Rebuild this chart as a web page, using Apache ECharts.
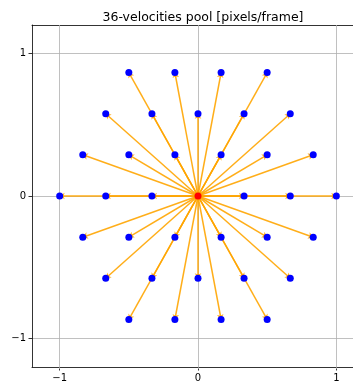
<!DOCTYPE html>
<html>
<head>
<meta charset="utf-8">
<script src="https://cdn.jsdelivr.net/npm/echarts@6/dist/echarts.min.js"></script>
<style>
  html, body { margin: 0; padding: 0; background: #fff; overflow: hidden; }
  #chart { width: 353px; height: 383px; }
</style>
</head>
<body>
<div id="chart"></div>
<script>
// 36 velocity vectors on a hexagonal lattice (pixels/frame)
const velX = [
  -0.5, -0.167, 0.167, 0.5,
  -0.667, -0.333, 0, 0.333, 0.667,
  -0.833, -0.5, -0.167, 0.167, 0.5, 0.833,
  -1, -0.667, -0.333, 0.333, 0.667, 1,
  -0.833, -0.5, -0.167, 0.167, 0.5, 0.833,
  -0.667, -0.333, 0, 0.333, 0.667,
  -0.5, -0.167, 0.167, 0.5
];
const velY = [
  0.866, 0.866, 0.866, 0.866,
  0.577, 0.577, 0.577, 0.577, 0.577,
  0.289, 0.289, 0.289, 0.289, 0.289, 0.289,
  0, 0, 0, 0, 0, 0,
  -0.289, -0.289, -0.289, -0.289, -0.289, -0.289,
  -0.577, -0.577, -0.577, -0.577, -0.577,
  -0.866, -0.866, -0.866, -0.866
];
const origin = [0, 0];
const tickValues = [-1, 0, 1];

const arrows = velX.map((x, i) => ({ coords: [origin, [x, velY[i]]] }));
const tips = velX.map((x, i) => [x, velY[i]]);

const chartWidth = 353;
const chart = echarts.init(document.getElementById('chart'));
const spine = { show: true, onZero: false, lineStyle: { color: '#000', width: 0.8 } };
const gridLine = { color: '#b0b0b0', width: 0.8 };
const grid = { left: 32, top: 25, right: 0, height: 344 };
// equal scale on both axes over -1.2 .. 1.2 (332 px); the x range ends at the chart's right edge
const xMin = -1.2;
const xMax = xMin + 2.4 * (chartWidth - grid.left) / 332;

const labelStyle = {
  color: '#000', fontSize: 10, fontFamily: 'DejaVu Sans', margin: 6,
  customValues: tickValues,
  formatter: v => (v < 0 ? '\u2212' + Math.abs(v) : String(v))
};
const outerTicks = { show: true, length: 3.5, lineStyle: { color: '#000', width: 0.8 },
                     customValues: tickValues };

chart.setOption({
  animation: false,
  title: {
    text: '36-velocities pool [pixels/frame]',
    left: 198, textAlign: 'center', top: 6,
    textStyle: { fontFamily: 'DejaVu Sans', fontSize: 12.5, fontWeight: 'normal', color: '#000' }
  },
  grid: grid,
  xAxis: [
    { type: 'value', position: 'bottom', min: xMin, max: xMax, interval: 1,
      axisLine: spine, axisTick: outerTicks, axisLabel: labelStyle, splitLine: { show: false } },
    // top spine; its full-height inner ticks serve as the vertical grid lines
    { type: 'value', position: 'top', min: xMin, max: xMax, interval: 1, axisLine: spine,
      axisTick: { show: true, inside: true, length: 344, lineStyle: gridLine,
                  customValues: tickValues },
      axisLabel: { show: false }, splitLine: { show: false } }
  ],
  yAxis: {
    type: 'value', position: 'left', min: -1.2, max: 1.2, interval: 1,
    axisLine: spine, axisTick: outerTicks, axisLabel: labelStyle,
    splitLine: { show: true, lineStyle: gridLine }
  },
  series: [
    {
      type: 'lines',
      coordinateSystem: 'cartesian2d',
      data: arrows,
      symbol: ['none', 'arrow'],
      symbolSize: 5,
      lineStyle: { color: '#ffa500', width: 1.5, opacity: 0.9 },
      z: 2
    },
    {
      type: 'scatter',
      data: tips,
      symbolSize: 7,
      itemStyle: { color: '#0000ff', opacity: 1 },
      z: 3
    },
    {
      type: 'scatter',
      data: [origin],
      symbolSize: 7,
      itemStyle: { color: '#ff0000', opacity: 1 },
      z: 4
    }
  ]
});
</script>
</body>
</html>
